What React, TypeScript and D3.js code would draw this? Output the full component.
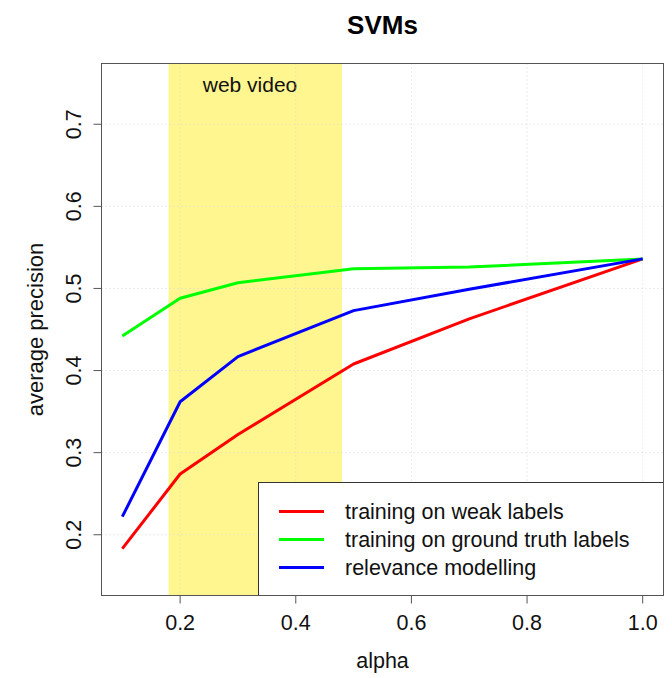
import React from "react";
import { scaleLinear, line } from "d3";

const alphas = [0.1, 0.2, 0.3, 0.5, 0.7, 1.0];
const weakLabels = [0.183, 0.274, 0.322, 0.408, 0.463, 0.536];
const groundTruth = [0.442, 0.488, 0.507, 0.524, 0.526, 0.536];
const relevance = [0.222, 0.362, 0.417, 0.473, 0.499, 0.536];
const seriesNames = [
  "training on weak labels",
  "training on ground truth labels",
  "relevance modelling",
];
const seriesColors = ["#ff0000", "#00ff00", "#0000ff"];
const xTicks = [0.2, 0.4, 0.6, 0.8, 1.0];
const yTicks = [0.2, 0.3, 0.4, 0.5, 0.6, 0.7];
const band = [0.18, 0.48];

const W = 672;
const H = 678;
const plot = { left: 101.5, right: 663.5, top: 63.5, bottom: 595.5 };
const font = "'Liberation Sans', Arial, Helvetica, sans-serif";
const fs = 21.5;

export default function App() {
  // R style: 4% padding on both ends
  const x = scaleLinear().domain([0.064, 1.036]).range([plot.left, plot.right]);
  const y = scaleLinear().domain([0.126, 0.774]).range([plot.bottom, plot.top]);

  const series = [weakLabels, groundTruth, relevance];
  const path = line<number>()
    .x((_, i) => x(alphas[i]))
    .y((d) => y(d));

  const legend = { x0: 258.5, y0: 482.5, x1: plot.right, y1: plot.bottom };
  const rowY = [511.5, 539.5, 567.5];

  return (
    <svg
      width={W}
      height={H}
      style={{ position: "absolute", left: 0, top: 0, background: "#fff" }}
      fontFamily={font}
    >
      <rect x={0} y={0} width={W} height={H} fill="#fff" />

      {/* highlighted range */}
      <rect
        x={x(band[0])}
        y={plot.top}
        width={x(band[1]) - x(band[0])}
        height={plot.bottom - plot.top}
        fill="#fff68f"
      />
      <text x={250} y={92} fontSize={21} textAnchor="middle" fill="#111">
        web video
      </text>

      {/* grid */}
      <g stroke="#d8d8d8" strokeWidth={1} strokeDasharray="1,3">
        {xTicks.map((t) => (
          <line key={"gx" + t} x1={x(t)} x2={x(t)} y1={plot.top} y2={plot.bottom} />
        ))}
        {yTicks.map((t) => (
          <line key={"gy" + t} x1={plot.left} x2={plot.right} y1={y(t)} y2={y(t)} />
        ))}
      </g>

      {/* series */}
      {series.map((s, i) => (
        <path
          key={seriesNames[i]}
          d={path(s) || ""}
          fill="none"
          stroke={seriesColors[i]}
          strokeWidth={3}
          strokeLinejoin="round"
        />
      ))}

      {/* legend */}
      <rect
        x={legend.x0}
        y={legend.y0}
        width={legend.x1 - legend.x0}
        height={legend.y1 - legend.y0}
        fill="#fff"
        stroke="#333"
        strokeWidth={1}
      />
      {seriesNames.map((n, i) => (
        <g key={"lg" + n}>
          <line x1={279} x2={324} y1={rowY[i]} y2={rowY[i]} stroke={seriesColors[i]} strokeWidth={3} />
          <text x={345} y={rowY[i] + 7.5} fontSize={fs} fill="#111">
            {n}
          </text>
        </g>
      ))}

      {/* box */}
      <rect
        x={plot.left}
        y={plot.top}
        width={plot.right - plot.left}
        height={plot.bottom - plot.top}
        fill="none"
        stroke="#555"
        strokeWidth={1}
      />

      {/* ticks */}
      <g stroke="#555" strokeWidth={1}>
        {xTicks.map((t) => (
          <line key={"tx" + t} x1={x(t)} x2={x(t)} y1={plot.bottom} y2={plot.bottom + 8} />
        ))}
        {yTicks.map((t) => (
          <line key={"ty" + t} x1={plot.left - 8} x2={plot.left} y1={y(t)} y2={y(t)} />
        ))}
      </g>
      {xTicks.map((t) => (
        <text key={"lx" + t} x={x(t)} y={630} fontSize={fs} textAnchor="middle" fill="#111">
          {t.toFixed(1)}
        </text>
      ))}
      {yTicks.map((t) => (
        <text
          key={"ly" + t}
          transform={`translate(81,${y(t)}) rotate(-90)`}
          fontSize={fs}
          textAnchor="middle"
          fill="#111"
        >
          {t.toFixed(1)}
        </text>
      ))}

      {/* titles */}
      <text x={(plot.left + plot.right) / 2} y={34} fontSize={26} fontWeight="bold" textAnchor="middle" fill="#000">
        SVMs
      </text>
      <text x={(plot.left + plot.right) / 2} y={668} fontSize={fs} textAnchor="middle" fill="#111">
        alpha
      </text>
      <text
        transform={`translate(43,${(plot.top + plot.bottom) / 2}) rotate(-90)`}
        fontSize={22}
        textAnchor="middle"
        fill="#111"
      >
        average precision
      </text>
    </svg>
  );
}
